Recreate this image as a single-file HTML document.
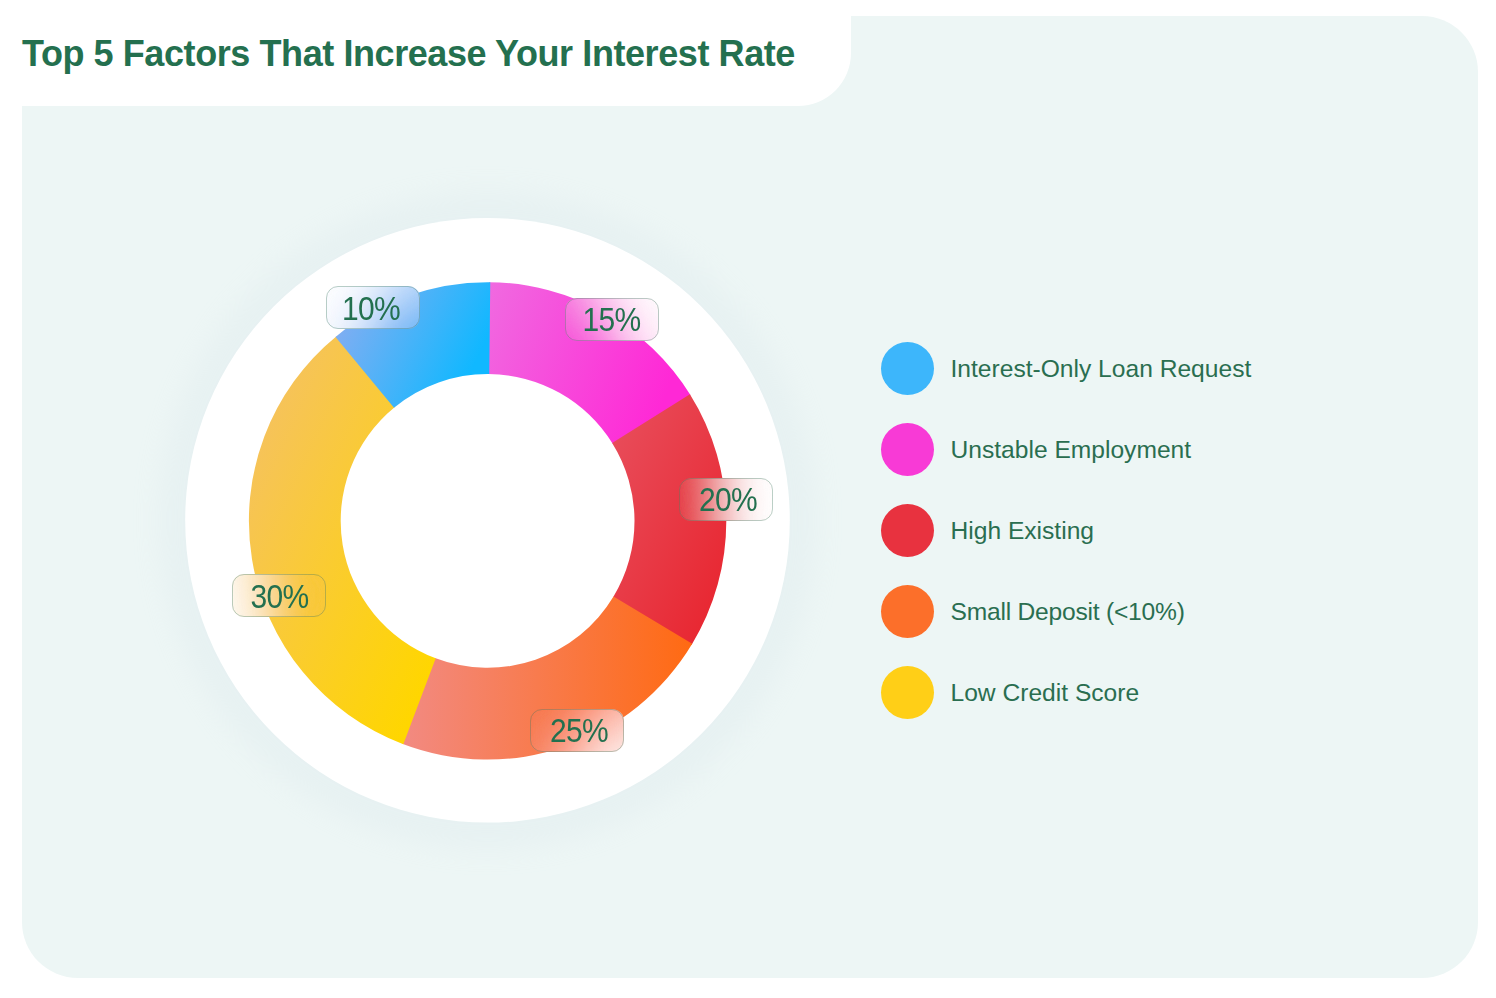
<!DOCTYPE html>
<html>
<head>
<meta charset="utf-8">
<style>
html,body{margin:0;padding:0;}
body{width:1496px;height:998px;background:#ffffff;position:relative;overflow:hidden;font-family:"Liberation Sans",sans-serif;}
.panel{position:absolute;left:22px;top:16px;width:1456px;height:962px;border-radius:56px;background:#edf6f5;}
.tab{position:absolute;left:0;top:0;width:851px;height:106px;background:#ffffff;border-bottom-right-radius:53px;}
.title{position:absolute;left:22px;top:31.8px;font-size:36px;letter-spacing:-0.42px;font-weight:bold;color:#24704f;white-space:nowrap;line-height:44px;}
svg.chart{position:absolute;left:0;top:0;}
.pill{position:absolute;transform:translateZ(0);width:92px;height:41px;border:1px solid rgba(60,120,95,0.35);border-radius:12px;color:#23704f;font-size:30px;letter-spacing:-0.7px;text-align:center;white-space:nowrap;}
.pill span{display:inline-block;transform:scaleY(1.09);text-indent:0;}
.leg{position:absolute;left:881px;width:400px;height:53px;}
.leg i{position:absolute;left:0;top:0;width:53px;height:53px;border-radius:50%;}
.leg span{position:absolute;left:69.5px;top:0;line-height:53px;font-size:24.6px;color:#2a6e50;white-space:nowrap;}
</style>
</head>
<body>
<div class="panel"></div>
<div class="tab"></div>
<div class="title">Top 5 Factors That Increase Your Interest Rate</div>
<svg class="chart" width="1496" height="998" viewBox="0 0 1496 998">
<defs>
<filter id="glow" filterUnits="userSpaceOnUse" x="0" y="0" width="1496" height="998"><feGaussianBlur stdDeviation="13"/></filter>
<filter id="pblur" filterUnits="userSpaceOnUse" x="0" y="0" width="1496" height="998"><feGaussianBlur stdDeviation="22"/><feColorMatrix type="matrix" values="1 0 0 0 0  0 1 0 0 0  0 0 1 0 0  0 0 0 0 1"/><feComponentTransfer><feFuncR type="gamma" exponent="1.2"/><feFuncG type="gamma" exponent="1.2"/><feFuncB type="gamma" exponent="1.2"/></feComponentTransfer></filter>
<linearGradient id="gPink" x1="0" y1="0" x2="1" y2="0.3"><stop offset="0" stop-color="#f06ae0"/><stop offset="1" stop-color="#ff28d6"/></linearGradient>
<linearGradient id="gRed" x1="0" y1="0" x2="0.9" y2="1"><stop offset="0" stop-color="#e8505e"/><stop offset="1" stop-color="#e8242e"/></linearGradient>
<linearGradient id="gOrange" x1="0" y1="0" x2="1" y2="0"><stop offset="0" stop-color="#f28a82"/><stop offset="1" stop-color="#ff6a12"/></linearGradient>
<linearGradient id="gYellow" x1="0" y1="0" x2="0.9" y2="0.9"><stop offset="0" stop-color="#f4bf6c"/><stop offset="1" stop-color="#ffd600"/></linearGradient>
<linearGradient id="gBlue" x1="0" y1="0" x2="1" y2="0.4"><stop offset="0" stop-color="#92acf0"/><stop offset="1" stop-color="#10b8ff"/></linearGradient>
<clipPath id="pc0"><rect x="326" y="286" width="94" height="43" rx="12"/></clipPath>
<clipPath id="pr0"><rect x="326" y="286" width="94" height="43"/></clipPath>
<clipPath id="pc1"><rect x="565" y="298" width="94" height="43" rx="12"/></clipPath>
<clipPath id="pr1"><rect x="565" y="298" width="94" height="43"/></clipPath>
<clipPath id="pc2"><rect x="679" y="478" width="94" height="43" rx="12"/></clipPath>
<clipPath id="pr2"><rect x="679" y="478" width="94" height="43"/></clipPath>
<clipPath id="pc3"><rect x="530" y="709" width="94" height="43" rx="12"/></clipPath>
<clipPath id="pr3"><rect x="530" y="709" width="94" height="43"/></clipPath>
<clipPath id="pc4"><rect x="232" y="574" width="94" height="43" rx="12"/></clipPath>
<clipPath id="pr4"><rect x="232" y="574" width="94" height="43"/></clipPath>
</defs>
<circle cx="487.5" cy="520.5" r="330" fill="#d0e0e6" opacity="0.2" filter="url(#glow)"/>
<g id="donut">
<circle cx="487.5" cy="520.3" r="302.3" fill="#ffffff"/>
<path fill="url(#gPink)" d="M489.02 282.20A238.7 238.7 0 0 1 690.58 395.29L612.52 443.60A146.9 146.9 0 0 0 488.47 374.00Z"/>
<path fill="url(#gRed)" d="M689.92 394.23A238.7 238.7 0 0 1 691.56 644.91L613.12 597.22A146.9 146.9 0 0 0 612.11 442.95Z"/>
<path fill="url(#gOrange)" d="M692.21 643.84A238.7 238.7 0 0 1 402.14 743.78L435.00 658.06A146.9 146.9 0 0 0 613.52 596.56Z"/>
<path fill="url(#gYellow)" d="M403.30 744.22A238.7 238.7 0 0 1 336.48 336.13L394.60 407.19A146.9 146.9 0 0 0 435.72 658.33Z"/>
<path fill="url(#gBlue)" d="M335.51 336.93A238.7 238.7 0 0 1 490.27 282.21L489.24 374.01A146.9 146.9 0 0 0 394.00 407.68Z"/>
</g>
<g clip-path="url(#pc0)"><g filter="url(#pblur)"><g clip-path="url(#pr0)"><use href="#donut"/></g></g><rect x="326" y="286" width="94" height="43" fill="#ffffff" opacity="0.1"/></g>
<g clip-path="url(#pc1)"><g filter="url(#pblur)"><g clip-path="url(#pr1)"><use href="#donut"/></g></g><rect x="565" y="298" width="94" height="43" fill="#ffffff" opacity="0.1"/></g>
<g clip-path="url(#pc2)"><g filter="url(#pblur)"><g clip-path="url(#pr2)"><use href="#donut"/></g></g><rect x="679" y="478" width="94" height="43" fill="#ffffff" opacity="0.1"/></g>
<g clip-path="url(#pc3)"><g filter="url(#pblur)"><g clip-path="url(#pr3)"><use href="#donut"/></g></g><rect x="530" y="709" width="94" height="43" fill="#ffffff" opacity="0.1"/></g>
<g clip-path="url(#pc4)"><g filter="url(#pblur)"><g clip-path="url(#pr4)"><use href="#donut"/></g></g><rect x="232" y="574" width="94" height="43" fill="#ffffff" opacity="0.1"/></g>
</svg>
<div class="pill" style="left:326px;top:286px;text-indent:-4px;line-height:43px;"><span>10%</span></div>
<div class="pill" style="left:565px;top:298px;text-indent:-1px;line-height:41px;"><span>15%</span></div>
<div class="pill" style="left:679px;top:478px;text-indent:4px;line-height:41px;"><span>20%</span></div>
<div class="pill" style="left:530px;top:709px;text-indent:4px;line-height:41px;"><span>25%</span></div>
<div class="pill" style="left:232px;top:574px;text-indent:1px;line-height:43px;"><span>30%</span></div>
<div class="leg" style="top:342px;"><i style="background:#3db6fb"></i><span>Interest-Only Loan Request</span></div>
<div class="leg" style="top:423px;"><i style="background:#f83ad6"></i><span>Unstable Employment</span></div>
<div class="leg" style="top:504px;"><i style="background:#e8323f"></i><span>High Existing</span></div>
<div class="leg" style="top:585px;"><i style="background:#fc6f2a"></i><span><b style="font-weight:normal;letter-spacing:-0.22px">Small Deposit (&lt;10%)</b></span></div>
<div class="leg" style="top:666px;"><i style="background:#ffcf17"></i><span>Low Credit Score</span></div>
</body>
</html>
